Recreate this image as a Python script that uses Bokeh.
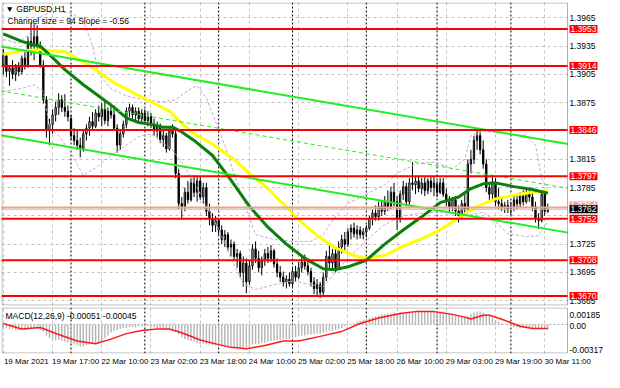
from bokeh.plotting import figure
from bokeh.layouts import column
from bokeh.models import ColumnDataSource, FixedTicker, Span, Label, Range1d, BoxAnnotation
from bokeh.embed import file_html
from bokeh.resources import INLINE

# ---------------- data ----------------
opens = [1.3915,1.3925,1.3908,1.3912,1.3905,1.3913,1.3908,1.3922,1.3915,1.3940,
         1.3935,1.3945,1.3935,1.3915,1.3878,1.3845,1.3852,1.3862,1.3870,1.3878,
         1.3870,1.3866,1.3858,1.3840,1.3835,1.3830,1.3826,1.3842,1.3848,1.3855,
         1.3850,1.3864,1.3860,1.3868,1.3856,1.3866,1.3862,1.3848,1.3830,1.3842,
         1.3852,1.3866,1.3870,1.3862,1.3866,1.3858,1.3864,1.3856,1.3860,1.3852,
         1.3845,1.3850,1.3836,1.3840,1.3826,1.3845,1.3842,1.3800,1.3768,1.3765,
         1.3780,1.3772,1.3790,1.3780,1.3792,1.3775,1.3785,1.3760,1.3752,1.3745,
         1.3750,1.3740,1.3730,1.3735,1.3722,1.3725,1.3712,1.3715,1.3695,1.3705,
         1.3685,1.3702,1.3720,1.3710,1.3700,1.3708,1.3715,1.3710,1.3718,1.3704,
         1.3695,1.3690,1.3685,1.3688,1.3683,1.3696,1.3690,1.3700,1.3706,1.3702,
         1.3696,1.3685,1.3678,1.3682,1.3674,1.3690,1.3712,1.3705,1.3715,1.3700,
         1.3722,1.3730,1.3725,1.3738,1.3742,1.3736,1.3740,1.3735,1.3738,1.3742,
         1.3752,1.3758,1.3754,1.3765,1.3760,1.3770,1.3765,1.3780,1.3770,1.3752,
         1.3778,1.3786,1.3770,1.3790,1.3788,1.3792,1.3784,1.3790,1.3782,1.3792,
         1.3785,1.3788,1.3780,1.3790,1.3778,1.3770,1.3764,1.3772,1.3760,1.3755,
         1.3768,1.3762,1.3810,1.3815,1.3835,1.3840,1.3825,1.3810,1.3785,1.3778,
         1.3790,1.3770,1.3768,1.3764,1.3766,1.3762,1.3765,1.3772,1.3768,1.3776,
         1.3770,1.3780,1.3775,1.3765,1.3752,1.3750,1.3778,1.3760]
highs = [1.3932,1.3928,1.3915,1.3920,1.3916,1.3918,1.3925,1.3930,1.3945,1.3960,
         1.3958,1.3957,1.3940,1.3920,1.3882,1.3858,1.3868,1.3876,1.3885,1.3883,
         1.3884,1.3872,1.3862,1.3848,1.3845,1.3838,1.3845,1.3852,1.3860,1.3865,
         1.3868,1.3872,1.3875,1.3876,1.3870,1.3874,1.3872,1.3852,1.3845,1.3856,
         1.3870,1.3874,1.3873,1.3870,1.3870,1.3868,1.3868,1.3866,1.3864,1.3858,
         1.3855,1.3853,1.3845,1.3843,1.3848,1.3852,1.3845,1.3805,1.3775,1.3785,
         1.3792,1.3795,1.3798,1.3796,1.3796,1.3790,1.3790,1.3768,1.3758,1.3755,
         1.3752,1.3745,1.3740,1.3738,1.3730,1.3728,1.3720,1.3718,1.3712,1.3710,
         1.3708,1.3725,1.3728,1.3718,1.3712,1.3720,1.3722,1.3724,1.3720,1.3710,
         1.3702,1.3696,1.3692,1.3695,1.3700,1.3702,1.3706,1.3712,1.3714,1.3710,
         1.3700,1.3690,1.3688,1.3685,1.3695,1.3718,1.3725,1.3720,1.3722,1.3728,
         1.3735,1.3738,1.3742,1.3746,1.3748,1.3745,1.3744,1.3742,1.3745,1.3755,
         1.3762,1.3766,1.3770,1.3772,1.3776,1.3782,1.3786,1.3790,1.3776,1.3782,
         1.3792,1.3790,1.3795,1.3812,1.3796,1.3798,1.3795,1.3796,1.3795,1.3797,
         1.3796,1.3792,1.3795,1.3795,1.3784,1.3776,1.3775,1.3776,1.3766,1.3772,
         1.3778,1.3815,1.3825,1.3840,1.3847,1.3846,1.3835,1.3815,1.3790,1.3798,
         1.3795,1.3785,1.3775,1.3770,1.3772,1.3770,1.3776,1.3778,1.3780,1.3782,
         1.3784,1.3785,1.3782,1.3770,1.3758,1.3782,1.3782,1.3768]
lows = [1.3905,1.3902,1.3893,1.3900,1.3898,1.3903,1.3905,1.3910,1.3912,1.3925,
        1.3920,1.3930,1.3912,1.3874,1.3838,1.3830,1.3842,1.3855,1.3862,1.3865,
        1.3860,1.3855,1.3835,1.3830,1.3825,1.3817,1.3823,1.3835,1.3840,1.3845,
        1.3848,1.3855,1.3850,1.3852,1.3850,1.3858,1.3845,1.3822,1.3825,1.3838,
        1.3848,1.3860,1.3858,1.3856,1.3855,1.3853,1.3852,1.3850,1.3848,1.3840,
        1.3838,1.3832,1.3828,1.3822,1.3824,1.3838,1.3795,1.3762,1.3751,1.3760,
        1.3768,1.3770,1.3775,1.3770,1.3772,1.3768,1.3755,1.3745,1.3738,1.3738,
        1.3735,1.3725,1.3722,1.3718,1.3712,1.3708,1.3700,1.3690,1.3680,1.3673,
        1.3682,1.3698,1.3705,1.3695,1.3692,1.3702,1.3705,1.3706,1.3700,1.3690,
        1.3685,1.3680,1.3678,1.3680,1.3680,1.3686,1.3688,1.3695,1.3698,1.3692,
        1.3680,1.3672,1.3670,1.3668,1.3670,1.3686,1.3700,1.3698,1.3695,1.3698,
        1.3715,1.3718,1.3722,1.3730,1.3732,1.3730,1.3731,1.3730,1.3732,1.3740,
        1.3745,1.3750,1.3750,1.3755,1.3756,1.3760,1.3762,1.3765,1.3740,1.3748,
        1.3772,1.3765,1.3765,1.3782,1.3778,1.3780,1.3778,1.3776,1.3778,1.3780,
        1.3776,1.3775,1.3778,1.3775,1.3765,1.3758,1.3760,1.3755,1.3748,1.3752,
        1.3758,1.3760,1.3800,1.3810,1.3825,1.3820,1.3805,1.3780,1.3770,1.3772,
        1.3765,1.3762,1.3760,1.3758,1.3758,1.3756,1.3760,1.3762,1.3764,1.3766,
        1.3768,1.3770,1.3760,1.3748,1.3741,1.3748,1.3755,1.3758]
closes = [1.3925,1.3908,1.3912,1.3905,1.3913,1.3908,1.3922,1.3915,1.3940,1.3935,
          1.3945,1.3935,1.3915,1.3878,1.3845,1.3852,1.3862,1.3870,1.3878,1.3870,
          1.3866,1.3860,1.3840,1.3835,1.3830,1.3826,1.3842,1.3848,1.3855,1.3850,
          1.3864,1.3860,1.3868,1.3856,1.3866,1.3862,1.3848,1.3830,1.3842,1.3852,
          1.3866,1.3870,1.3862,1.3866,1.3858,1.3864,1.3856,1.3860,1.3852,1.3845,
          1.3850,1.3836,1.3840,1.3826,1.3845,1.3842,1.3800,1.3768,1.3765,1.3780,
          1.3772,1.3790,1.3780,1.3792,1.3775,1.3785,1.3760,1.3752,1.3745,1.3750,
          1.3740,1.3730,1.3735,1.3722,1.3725,1.3712,1.3715,1.3695,1.3705,1.3685,
          1.3702,1.3720,1.3710,1.3700,1.3708,1.3715,1.3710,1.3718,1.3704,1.3695,
          1.3690,1.3685,1.3688,1.3683,1.3696,1.3690,1.3700,1.3706,1.3702,1.3696,
          1.3685,1.3678,1.3682,1.3674,1.3690,1.3712,1.3705,1.3715,1.3700,1.3722,
          1.3730,1.3725,1.3738,1.3742,1.3736,1.3740,1.3735,1.3738,1.3742,1.3752,
          1.3758,1.3754,1.3765,1.3760,1.3770,1.3765,1.3780,1.3770,1.3752,1.3778,
          1.3786,1.3770,1.3790,1.3788,1.3792,1.3784,1.3790,1.3782,1.3792,1.3785,
          1.3790,1.3780,1.3790,1.3778,1.3770,1.3764,1.3772,1.3760,1.3755,1.3768,
          1.3762,1.3810,1.3815,1.3835,1.3840,1.3825,1.3810,1.3785,1.3778,1.3790,
          1.3770,1.3768,1.3764,1.3766,1.3762,1.3765,1.3772,1.3768,1.3776,1.3770,
          1.3780,1.3775,1.3765,1.3752,1.3750,1.3778,1.3760,1.3762]

# slow (yellow) and fast (dark green) moving averages, read at selected bars
ma_slow_bars = [0,6,12,20,24,30,36,42,48,54,58,62,68,72,76,80,86,90,96,102,
                108,114,118,124,130,136,142,148,154,160,166,172,177]
ma_slow = [1.3926,1.3930,1.3931,1.3929,1.3922,1.3910,1.3896,1.3886,1.3876,1.3866,
           1.3853,1.3842,1.3831,1.3822,1.3812,1.3800,1.3784,1.3771,1.3751,1.3734,
           1.3721,1.3713,1.3710,1.3713,1.3723,1.3731,1.3740,1.3753,1.3765,1.3773,
           1.3777,1.3780,1.3781]
ma_fast_bars = [0,6,10,12,15,20,26,31,36,40,44,48,52,55,58,62,68,74,80,86,
                92,98,104,108,112,118,124,130,136,142,148,152,156,160,166,172,177]
ma_fast = [1.3948,1.3940,1.3936,1.3935,1.3926,1.3910,1.3894,1.3882,1.3870,1.3859,
           1.3854,1.3852,1.3849,1.3849,1.3844,1.3835,1.3819,1.3793,1.3765,1.3743,
           1.3725,1.3710,1.3699,1.3698,1.3701,1.3708,1.3725,1.3740,1.3754,1.3769,
           1.3775,1.3784,1.3789,1.3790,1.3786,1.3783,1.3779]

# bands (violet dashed)
bb_up_bars = [0,5,9,12,16,22,26,29,31,35,40,46,52,56,60,63,66,69,72,75,
              78,82,88,94,100,104,108,112,118,124,128,134,140,146,150,152,156,164,170,173,
              175,177]
bb_upper = [1.3942,1.3938,1.3950,1.3966,1.3972,1.3970,1.3962,1.3935,1.3905,1.3890,
            1.3882,1.3878,1.3876,1.3878,1.3888,1.3893,1.3880,1.3855,1.3830,1.3800,
            1.3772,1.3735,1.3730,1.3728,1.3728,1.3735,1.3755,1.3768,1.3778,1.3788,
            1.3800,1.3810,1.3812,1.3805,1.3815,1.3840,1.3845,1.3842,1.3840,1.3830,
            1.3795,1.3782]
bb_lo_bars = [0,6,10,13,15,18,22,26,30,35,40,44,48,52,55,58,62,66,70,74,
              78,82,88,94,100,104,108,112,118,124,130,136,142,148,152,156,160,164,170,174,
              177]
bb_lower = [1.3887,1.3890,1.3894,1.3887,1.3849,1.3840,1.3822,1.3798,1.3806,1.3819,
            1.3830,1.3839,1.3842,1.3832,1.3825,1.3812,1.3791,1.3766,1.3741,1.3710,
            1.3683,1.3677,1.3682,1.3686,1.3682,1.3680,1.3695,1.3710,1.3729,1.3746,
            1.3755,1.3758,1.3759,1.3757,1.3756,1.3759,1.3749,1.3736,1.3733,1.3734,
            1.3749]

# MACD histogram (per bar) and signal line
macd_hist = [-0.0004,-0.0004,-0.0005,-0.0005,-0.0006,-0.0006,-0.0006,-0.0006,-0.0005,-0.0004,
             -0.0004,-0.0005,-0.0006,-0.0008,-0.0012,-0.0015,-0.0016,-0.0017,-0.0017,-0.0018,
             -0.0019,-0.0020,-0.0021,-0.0022,-0.0023,-0.0024,-0.0024,-0.0023,-0.0022,-0.0021,
             -0.0021,-0.0020,-0.0018,-0.0015,-0.0012,-0.0009,-0.0007,-0.0006,-0.0005,-0.0004,
             -0.0004,-0.0003,-0.0003,-0.0003,-0.0002,-0.0002,-0.0002,-0.0002,-0.0003,-0.0003,
             -0.0004,-0.0004,-0.0005,-0.0006,-0.0006,-0.0006,-0.0008,-0.0011,-0.0014,-0.0016,
             -0.0017,-0.0018,-0.0019,-0.0020,-0.0021,-0.0021,-0.0022,-0.0022,-0.0023,-0.0023,
             -0.0023,-0.0024,-0.0024,-0.0025,-0.0025,-0.0025,-0.0025,-0.0026,-0.0026,-0.0025,
             -0.0024,-0.0022,-0.0021,-0.0021,-0.0020,-0.0020,-0.0019,-0.0018,-0.0018,-0.0017,
             -0.0017,-0.0016,-0.0016,-0.0016,-0.0015,-0.0014,-0.0013,-0.0012,-0.0012,-0.0011,
             -0.0011,-0.0011,-0.0010,-0.0010,-0.0009,-0.0008,-0.0007,-0.0007,-0.0006,-0.0005,
             -0.0004,-0.0002,-0.0001,0.0000,0.0001,0.0003,0.0004,0.0005,0.0006,0.0007,
             0.0008,0.0009,0.0010,0.0011,0.0011,0.0012,0.0012,0.0013,0.0012,0.0013,
             0.0013,0.0013,0.0014,0.0014,0.0014,0.0015,0.0015,0.0015,0.0015,0.0015,
             0.0015,0.0014,0.0014,0.0014,0.0013,0.0012,0.0011,0.0010,0.0009,0.0008,
             0.0008,0.0009,0.0011,0.0013,0.0014,0.0014,0.0013,0.0011,0.0009,0.0007,
             0.0005,0.0003,0.0001,0.0000,-0.0001,-0.0002,-0.0003,-0.0003,-0.0004,-0.0004,
             -0.0004,-0.0004,-0.0004,-0.0005,-0.0005,-0.0005,-0.0005,-0.00051]
sig_bars = [0,3,6,12,18,24,30,35,40,45,50,54,58,64,70,74,79,85,91,96,
            103,110,116,122,129,134,140,146,150,152,156,158,163,168,172,177]
sig_vals = [0.0001,-0.0002,-0.0005,-0.00034,-0.0011,-0.0018,-0.0021,-0.0016,-0.0010,-0.00065,
            -0.0005,-0.0005,-0.0009,-0.0017,-0.0022,-0.0025,-0.00265,-0.0023,-0.0018,-0.0018,
            -0.0013,-0.00076,0.0001,0.0007,0.0012,0.0014,0.0014,0.0011,0.0008,0.0006,
            0.0010,0.0010,0.00045,-0.0002,-0.00045,-0.00045]

date_ticks = [0,16,32,48,64,80,96,112,128,144,160,176]
date_labels = ["19 Mar 2021","19 Mar 17:00","22 Mar 10:00","23 Mar 02:00","23 Mar 18:00",
               "24 Mar 10:00","25 Mar 02:00","25 Mar 18:00","26 Mar 10:00","29 Mar 03:00",
               "29 Mar 19:00","30 Mar 11:00"]
day_starts = [22,46,70,94,118,141,165]
price_grid = [1.3965,1.3935,1.3905,1.3875,1.3845,1.3815,1.3785,1.3755,1.3725,1.3695,1.3665]
price_axis_ticks = [1.3965,1.3935,1.3905,1.3875,1.3815,1.3785,1.3725,1.3695,1.3665]
levels = [1.3953,1.3914,1.3846,1.3797,1.3752,1.3708,1.3670]
bid_price = 1.3762
ask_price = 1.3764
chan_x = [-1, 184]
chan_upper = [1.39346, 1.38310]
chan_mid = [1.38876, 1.37840]
chan_lower = [1.38406, 1.37370]
macd_max, macd_min = 0.00185, -0.00317
macd_scale_labels = ["0.00185", "0.00", "-0.00317"]
title_text = "\u25bc GBPUSD,H1"
channel_text = "Channel size = 94 Slope = -0.56"
macd_text = "MACD(12,26,9) -0.00051 -0.00045"

# ---------------- styling / geometry ----------------
FONT = "Liberation Sans"
FS = "8.5px"
FS_DATE = "8px"
FW = 603           # full frame incl. the price-scale column
DATA_W = 566       # chart area width in px
FH, MH = 303, 46
X0, X1 = -0.6, 183.4
bpp = (X1 - X0) / DATA_W
XEND = X0 + FW * bpp
YMIN, YMAX = 1.3660, 1.39812
ypp = (YMAX - YMIN) / FH
mpp = (macd_max - macd_min) / MH
GRID = "#c4c4c4"
DATE_SHIFT = round(23 * bpp, 2)   # centre of a left-aligned date label

bars = list(range(len(closes)))
src = ColumnDataSource(dict(
    x=bars, h=highs, l=lows,
    top=[max(o, c) for o, c in zip(opens, closes)],
    bot=[min(o, c) for o, c in zip(opens, closes)],
    fill=["white" if c >= o else "black" for o, c in zip(opens, closes)],
))


def frame_decor(fig, ymin, ymax, yunit):
    # white price-scale column, then the chart border
    fig.add_layout(BoxAnnotation(left=X1, fill_color="white", fill_alpha=1.0, line_color=None))
    fig.add_layout(BoxAnnotation(left=X0 + 0.5 * bpp, right=X1, bottom=ymin + 0.5 * yunit,
                                 top=ymax - 0.5 * yunit, fill_alpha=0.0,
                                 line_color="black", line_width=1))


def scale_label(fig, y, text, bg=None, color="black"):
    kw = dict(x=X1, y=y, x_offset=2, text=text, text_font=FONT, text_font_size=FS,
              text_color=color, text_align="left", text_baseline="middle")
    if bg is not None:
        kw["background_fill_color"] = bg
        kw["padding"] = 1
    fig.add_layout(Label(**kw))


xr = Range1d(X0, XEND)
p = figure(frame_width=FW, frame_height=FH, x_range=xr, y_range=Range1d(YMIN, YMAX),
           output_backend="svg", toolbar_location=None, x_axis_location=None,
           y_axis_location=None, min_border_left=1, min_border_right=0,
           min_border_top=2, min_border_bottom=2, outline_line_color=None,
           background_fill_color="white", border_fill_color="white")
for g in (p.xgrid[0], p.ygrid[0]):
    g.grid_line_color = GRID
    g.grid_line_dash = "3 3"
p.xgrid[0].ticker = FixedTicker(ticks=date_ticks)
p.ygrid[0].ticker = FixedTicker(ticks=price_grid)

for d in day_starts:
    p.add_layout(Span(location=d, dimension="height", line_color="black",
                      line_dash="2 2", line_width=1, level="underlay"))

# candles
p.segment(x0="x", y0="h", x1="x", y1="l", source=src, line_color="black", line_width=1)
p.vbar(x="x", width=0.42, top="top", bottom="bot", fill_color="fill",
       line_color="black", line_width=1, source=src)

# bands
p.line(bb_up_bars, bb_upper, line_color="#c9a0e0", line_width=1, line_dash="3 2")
p.line(bb_lo_bars, bb_lower, line_color="#c9a0e0", line_width=1, line_dash="3 2")
# moving averages
p.line(ma_slow_bars, ma_slow, line_color="#ffff00", line_width=3)
p.line(ma_fast_bars, ma_fast, line_color="#0a7f0a", line_width=3)
# channel
p.line(chan_x, chan_upper, line_color="#22ee22", line_width=2)
p.line(chan_x, chan_lower, line_color="#22ee22", line_width=2)
p.line(chan_x, chan_mid, line_color="#22ee22", line_width=1, line_dash="4 3")

# horizontal levels
for lv in levels:
    p.add_layout(Span(location=lv, dimension="width", line_color="#ff0000", line_width=2))
p.add_layout(Span(location=ask_price, dimension="width", line_color="#f5a08a", line_width=2))
p.add_layout(Span(location=bid_price, dimension="width", line_color="#c0c0c0", line_width=1))

frame_decor(p, YMIN, YMAX, ypp)

for t in price_axis_ticks:
    scale_label(p, t, f"{t:.4f}")
for lv in levels:
    scale_label(p, lv, f"{lv:.4f}", bg="#ff0000", color="white")
scale_label(p, ask_price + 2 * ypp, f"{ask_price:.4f}", bg="#f5a08a", color="white")
scale_label(p, bid_price, f"{bid_price:.4f}", bg="black", color="white")

p.add_layout(Label(x=X0, y=YMAX - 6 * ypp, x_offset=4, text=title_text,
                   text_font=FONT, text_font_size=FS, text_color="black",
                   text_baseline="middle"))
p.add_layout(Label(x=X0, y=YMAX - 18 * ypp, x_offset=6, text=channel_text,
                   text_font=FONT, text_font_size=FS, text_color="black",
                   text_baseline="middle"))

# ---------------- MACD panel ----------------
m = figure(frame_width=FW, frame_height=MH, x_range=xr, y_range=Range1d(macd_min, macd_max),
           output_backend="svg", toolbar_location=None, y_axis_location=None,
           min_border_left=1, min_border_right=0, min_border_top=0, min_border_bottom=16,
           outline_line_color=None, background_fill_color="white", border_fill_color="white")
m.ygrid[0].visible = False
m.xgrid[0].ticker = FixedTicker(ticks=date_ticks)
m.xgrid[0].grid_line_color = GRID
m.xgrid[0].grid_line_dash = "3 3"
for d in day_starts:
    m.add_layout(Span(location=d, dimension="height", line_color="black",
                      line_dash="2 2", line_width=1, level="underlay"))
m.add_layout(Span(location=0, dimension="width", line_color="#b0b0b0",
                  line_dash="2 2", line_width=1, level="underlay"))
m.vbar(x=bars, top=macd_hist, bottom=0, width=0.45, fill_color="#b4b4b4", line_color=None)
m.line(sig_bars, sig_vals, line_color="#ff1a1a", line_width=1.5)

label_pos = [t + DATE_SHIFT for t in date_ticks]
xa = m.xaxis[0]
xa.ticker = FixedTicker(ticks=label_pos)
xa.major_label_overrides = {pos: s for pos, s in zip(label_pos, date_labels)}
xa.axis_line_color = None
xa.major_tick_out = 0
xa.major_tick_in = 0
xa.minor_tick_line_color = None
xa.major_label_standoff = 3
xa.major_label_text_font = FONT
xa.major_label_text_font_size = FS_DATE
xa.major_label_text_color = "black"

frame_decor(m, macd_min, macd_max, mpp)
scale_label(m, macd_max - 7.5 * mpp, macd_scale_labels[0])
scale_label(m, 0.0 - 1.5 * mpp, macd_scale_labels[1])
scale_label(m, macd_min + 4 * mpp, macd_scale_labels[2])

m.add_layout(Label(x=X0, y=macd_max - 8 * mpp, x_offset=4, text=macd_text,
                   text_font=FONT, text_font_size=FS, text_color="black",
                   text_baseline="middle"))

layout = column(p, m, spacing=0)
open("out.html", "w").write(file_html(layout, INLINE))
